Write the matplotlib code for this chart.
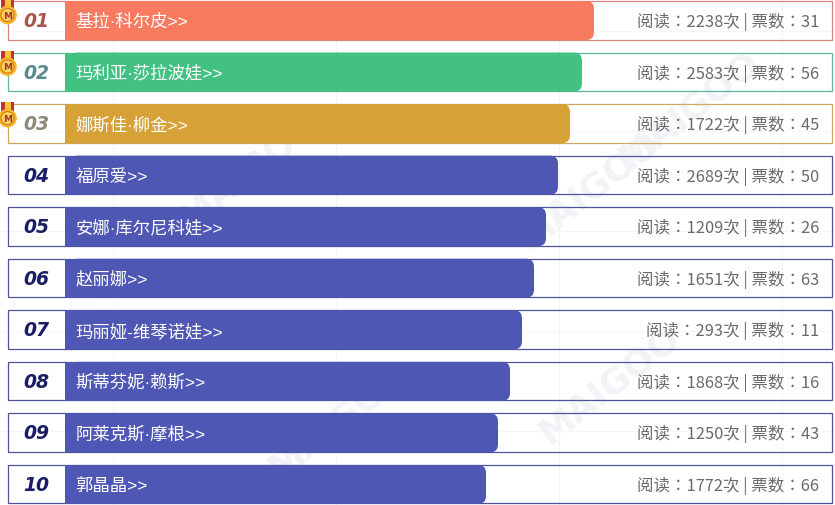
"""Top 10 ranking board, laid out in pixel coordinates of the 835x506 original."""
import matplotlib
matplotlib.use("Agg")
import matplotlib.pyplot as plt
from matplotlib.patches import Circle, FancyBboxPatch, Rectangle, RegularPolygon

plt.rcParams["font.family"] = ["Noto Sans CJK SC", "DejaVu Sans"]

ranks = ["01", "02", "03", "04", "05", "06", "07", "08", "09", "10"]
names = ["基拉·科尔皮", "玛利亚·莎拉波娃", "娜斯佳·柳金", "福原爱", "安娜·库尔尼科娃",
         "赵丽娜", "玛丽娅-维琴诺娃", "斯蒂芬妮·赖斯", "阿莱克斯·摩根", "郭晶晶"]
bar_values = [529, 517, 505, 493, 481, 469, 457, 445, 433, 421]
reads = [2238, 2583, 1722, 2689, 1209, 1651, 293, 1868, 1250, 1772]
votes = [31, 56, 45, 50, 26, 63, 11, 16, 43, 66]

BAR_COLORS = ["#f97b5f", "#43c183", "#d6a136"] + ["#4e57b3"] * 7
FRAME_COLORS = ["#d9837a", "#5fb5a0", "#cfa85a"] + ["#4f5499"] * 7
RANK_COLORS = ["#a5584f", "#5a8a90", "#8f8a78"] + ["#1b1d66"] * 7
TEXT_GREY = "#6a6a6a"
WATERMARK = "#f3f3f7"
LEFT, RIGHT, BAR_X = 7.5, 832, 65
ROW_H, PITCH, TOP = 38.5, 51.55, 2

fig = plt.figure(figsize=(8.35, 5.06), dpi=100)
ax = fig.add_axes([0, 0, 1, 1])
ax.set_xlim(0, 835)
ax.set_ylim(506, 0)
ax.axis("off")

# faint background grid and watermark
for gx in (113, 336, 559, 782):
    ax.axvline(gx, color="#f4f4f7", lw=0.7, zorder=0)
for gy in (32, 132, 232, 332, 432):
    ax.axhline(gy, color="#f6f6f9", lw=0.7, zorder=0)
for wx, wy in [(250, 170), (590, 190), (610, 385), (340, 420), (690, 110)]:
    ax.text(wx, wy, "MAIGOO", fontsize=26, fontweight="bold", color=WATERMARK,
            rotation=38, ha="center", va="center", family="DejaVu Sans", zorder=0)

for i, rank in enumerate(ranks):
    y = TOP + i * PITCH
    ax.add_patch(Rectangle((LEFT, y), RIGHT - LEFT, ROW_H, fc="none",
                           ec=FRAME_COLORS[i], lw=0.9, zorder=2))
    # square on the left, rounded on the right
    ax.add_patch(Rectangle((BAR_X, y), 30, ROW_H + 0.5, fc=BAR_COLORS[i], lw=0, zorder=3))
    ax.add_patch(FancyBboxPatch((BAR_X + 5, y), bar_values[i] - 5, ROW_H + 0.5,
                                boxstyle="round,pad=0,rounding_size=8",
                                fc=BAR_COLORS[i], lw=0, zorder=3))
    ax.text(36, y + 19.5, rank, fontsize=13.5, fontweight="bold", style="italic",
            color=RANK_COLORS[i], ha="center", va="center", family="DejaVu Sans", zorder=4)
    ax.text(75.5, y + 20, names[i] + ">>", fontsize=12.5, color="white",
            ha="left", va="center", family=["Liberation Sans", "Noto Sans CJK SC"], zorder=4)
    ax.text(819, y + 20, f"阅读：{reads[i]}次 | 票数：{votes[i]}", fontsize=11.85,
            color=TEXT_GREY, ha="right", va="center", family="Noto Sans CJK TC", zorder=4)

    # medal on the first three rows
    if i < 3:
        ax.add_patch(Rectangle((1, y - 2), 13, 9, fc="#c9322a", lw=0, zorder=5))
        ax.add_patch(Rectangle((4.5, y - 2), 6, 9, fc="#f5c63c", lw=0, zorder=6))
        ax.add_patch(RegularPolygon((7.5, y + 14), 12, radius=9.5, fc="#f9b62a", lw=0, zorder=6))
        ax.add_patch(Circle((7.5, y + 14), 6.5, fc="#f9d65c", ec="#d9761c", lw=0.8, zorder=7))
        ax.text(7.5, y + 14, "M", fontsize=6.5, fontweight="bold", color="#a5322a",
                ha="center", va="center", family="DejaVu Sans", zorder=8)

fig.savefig("out.png", dpi=100)
